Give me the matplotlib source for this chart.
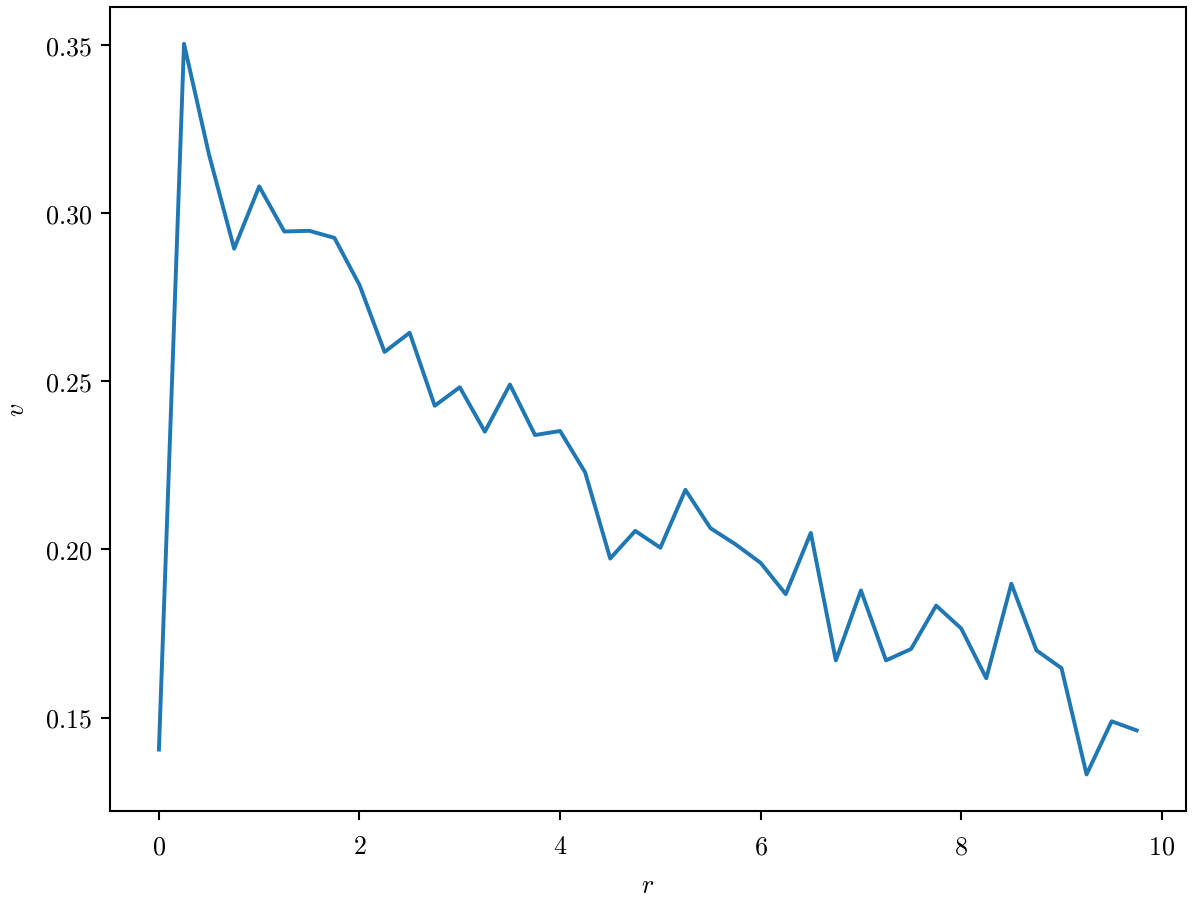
import matplotlib
matplotlib.use("Agg")
import matplotlib.pyplot as plt
import numpy as np

plt.rcParams["font.family"] = "serif"
plt.rcParams["font.serif"] = ["cmr10", "DejaVu Serif"]
plt.rcParams["mathtext.fontset"] = "cm"
plt.rcParams["axes.formatter.use_mathtext"] = True

# radius values, step 0.25
r = np.arange(40) * 0.25

v = [
    0.1405, 0.3503, 0.3173, 0.2894, 0.3079, 0.2945, 0.2947, 0.2926,
    0.2786, 0.2587, 0.2644, 0.2427, 0.2482, 0.2350, 0.2490, 0.2340,
    0.2352, 0.2229, 0.1973, 0.2055, 0.2005, 0.2177, 0.2063, 0.2015,
    0.1960, 0.1867, 0.2049, 0.1670, 0.1878, 0.1670, 0.1704, 0.1833,
    0.1765, 0.1617, 0.1898, 0.1700, 0.1647, 0.1331, 0.1489, 0.1462,
]

fig, ax = plt.subplots(figsize=(6.4, 4.81), dpi=187.5)
fig.subplots_adjust(left=0.0917, right=0.988, top=0.991, bottom=0.0998)

ax.plot(r, v, color="#1f77b4", linewidth=1.5)

ax.tick_params(axis="x", pad=5.5)
ax.set_xlabel("$r$", labelpad=6)
ax.set_ylabel("$v$", labelpad=6)

fig.savefig("out.png", dpi=187.5)
